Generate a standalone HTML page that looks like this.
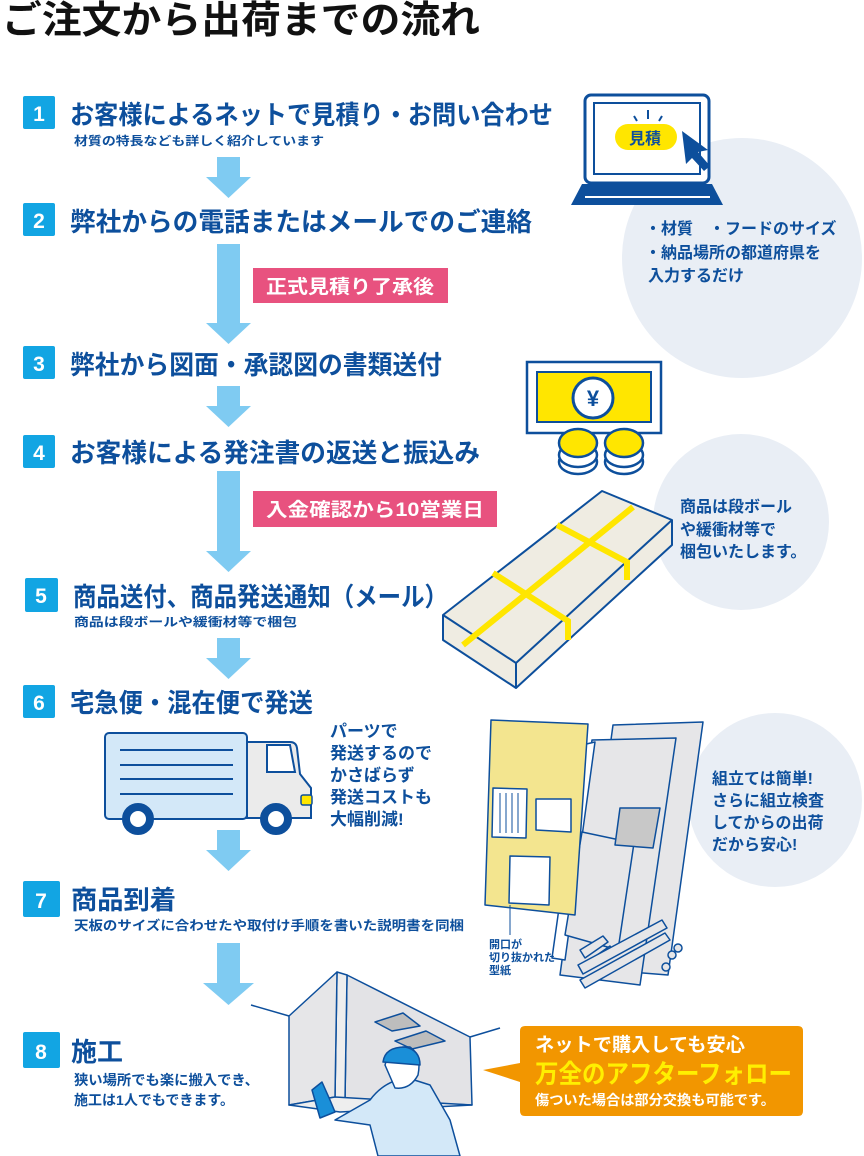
<!DOCTYPE html>
<html><head><meta charset="utf-8">
<style>
html,body{margin:0;padding:0;background:#fff;}
svg{display:block;}
text{font-family:"Liberation Sans","Noto Sans CJK JP",sans-serif;font-weight:bold;}
</style></head>
<body>
<svg width="864" height="1156" viewBox="0 0 864 1156" xmlns="http://www.w3.org/2000/svg">
<text x="2" y="33" font-size="38" fill="#111" textLength="478" lengthAdjust="spacingAndGlyphs">ご注文から出荷までの流れ</text>

<circle cx="742" cy="258" r="120" fill="#e9eef5"/>
<circle cx="741" cy="522" r="88" fill="#e9eef5"/>
<circle cx="775" cy="800" r="87" fill="#e9eef5"/>

<rect x="585" y="95" width="124" height="88" rx="6" fill="#fff" stroke="#0d4f9c" stroke-width="3"/>
<rect x="594" y="103" width="106" height="71" fill="#fff" stroke="#0d4f9c" stroke-width="2"/>
<path d="M582 184 L712 184 L723 205 L571 205 Z" fill="#0d4f9c"/>
<line x1="585" y1="197" x2="710" y2="197" stroke="#fff" stroke-width="2"/>
<rect x="615" y="124" width="62" height="26" rx="13" fill="#ffe600"/>
<text x="629" y="144" font-size="16" fill="#0d4f9c">見積</text>
<path d="M634 116 l3 5 M648 110 v9 M662 116 l-3 5" stroke="#0d4f9c" stroke-width="2"/>
<path d="M682 131 L708 150 L698 152 L710 166 L704 171 L692 158 L686 164 Z" fill="#0d4f9c"/>
<text x="645" y="234" font-size="16" fill="#0d4f9c">・材質　・フードのサイズ</text>
<text x="645" y="258" font-size="16" fill="#0d4f9c">・納品場所の都道府県を</text>
<text x="648" y="281" font-size="16" fill="#0d4f9c">入力するだけ</text>

<g fill="#12a5e3">
<rect x="23" y="96" width="32" height="33" rx="2"/>
<rect x="23" y="203" width="32" height="33" rx="2"/>
<rect x="23" y="346" width="32" height="33" rx="2"/>
<rect x="23" y="435" width="32" height="33" rx="2"/>
<rect x="25" y="578" width="33" height="34" rx="2"/>
<rect x="23" y="685" width="32" height="33" rx="2"/>
<rect x="23" y="881" width="37" height="36" rx="2"/>
<rect x="23" y="1032" width="37" height="36" rx="2"/>
</g>
<g fill="#fff" font-size="21" text-anchor="middle">
<text x="39" y="121">1</text><text x="39" y="228">2</text><text x="39" y="371">3</text><text x="39" y="460">4</text>
<text x="41" y="603">5</text><text x="39" y="710">6</text><text x="41" y="908">7</text><text x="41" y="1059">8</text>
</g>

<g fill="#0d4f9c" font-size="26">
<text x="70" y="124" textLength="483" lengthAdjust="spacingAndGlyphs">お客様によるネットで見積り・お問い合わせ</text>
<text x="70" y="231" textLength="462" lengthAdjust="spacingAndGlyphs">弊社からの電話またはメールでのご連絡</text>
<text x="70" y="374" textLength="372" lengthAdjust="spacingAndGlyphs">弊社から図面・承認図の書類送付</text>
<text x="70" y="462" textLength="410" lengthAdjust="spacingAndGlyphs">お客様による発注書の返送と振込み</text>
<text x="73" y="606" textLength="375" lengthAdjust="spacingAndGlyphs">商品送付、商品発送通知（メール）</text>
<text x="70" y="712" textLength="243" lengthAdjust="spacingAndGlyphs">宅急便・混在便で発送</text>
<text x="71" y="909" textLength="105" lengthAdjust="spacingAndGlyphs">商品到着</text>
<text x="71" y="1061" textLength="52" lengthAdjust="spacingAndGlyphs">施工</text>
</g>
<g fill="#0d4f9c" font-size="12">
<text x="74" y="145" textLength="250" lengthAdjust="spacingAndGlyphs">材質の特長なども詳しく紹介しています</text>
<text x="74" y="626" textLength="223" lengthAdjust="spacingAndGlyphs">商品は段ボールや緩衝材等で梱包</text>
<text x="74" y="930" font-size="13" textLength="390" lengthAdjust="spacingAndGlyphs">天板のサイズに合わせたや取付け手順を書いた説明書を同梱</text>
<text x="74" y="1085" font-size="14" textLength="185" lengthAdjust="spacingAndGlyphs">狭い場所でも楽に搬入でき、</text>
<text x="74" y="1105" font-size="14" textLength="160" lengthAdjust="spacingAndGlyphs">施工は1人でもできます。</text>
</g>

<g fill="#7fcbf2">
<path d="M217 157 h23 v20 h11 l-22.5 21 l-22.5 -21 h11 Z"/>
<path d="M217 244 h23 v79 h11 l-22.5 21 l-22.5 -21 h11 Z"/>
<path d="M217 386 h23 v20 h11 l-22.5 21 l-22.5 -21 h11 Z"/>
<path d="M217 471 h23 v80 h11 l-22.5 21 l-22.5 -21 h11 Z"/>
<path d="M217 638 h23 v20 h11 l-22.5 21 l-22.5 -21 h11 Z"/>
<path d="M217 830 h23 v20 h11 l-22.5 21 l-22.5 -21 h11 Z"/>
<path d="M217 943 h23 v40 h14 l-25.5 22 l-25.5 -22 h14 Z"/>
</g>

<rect x="253" y="268" width="195" height="35" fill="#e8527f"/>
<text x="266" y="293" font-size="19" fill="#fff" textLength="168" lengthAdjust="spacingAndGlyphs">正式見積り了承後</text>
<rect x="253" y="491" width="244" height="36" fill="#e8527f"/>
<text x="266" y="516" font-size="19" fill="#fff" textLength="218" lengthAdjust="spacingAndGlyphs">入金確認から10営業日</text>

<rect x="527" y="362" width="134" height="71" fill="#fff" stroke="#0d4f9c" stroke-width="2.5"/>
<rect x="537" y="372" width="114" height="50" fill="#ffe600" stroke="#0d4f9c" stroke-width="2"/>
<circle cx="593" cy="398" r="20" fill="#fff" stroke="#0d4f9c" stroke-width="3"/>
<text x="593" y="406" font-size="22" fill="#0d4f9c" text-anchor="middle">¥</text>
<g stroke="#0d4f9c" stroke-width="2.5" fill="#fff">
<ellipse cx="578" cy="462" rx="19" ry="12"/><ellipse cx="578" cy="455" rx="19" ry="12"/>
<ellipse cx="578" cy="443" rx="19" ry="14" fill="#ffe600"/>
<ellipse cx="624" cy="462" rx="19" ry="12"/><ellipse cx="624" cy="455" rx="19" ry="12"/>
<ellipse cx="624" cy="443" rx="19" ry="14" fill="#ffe600"/>
</g>
<text x="680" y="512" font-size="16" fill="#0d4f9c">商品は段ボール</text>
<text x="680" y="535" font-size="16" fill="#0d4f9c">や緩衝材等で</text>
<text x="680" y="557" font-size="16" fill="#0d4f9c">梱包いたします。</text>

<g stroke="#0d4f9c" stroke-width="2" stroke-linejoin="round">
<path d="M443 615 L602 491 L672 520 L672 545 L516 688 L443 640 Z" fill="#efece2"/>
<path d="M443 615 L516 663 L672 520" fill="none"/>
<path d="M516 663 L516 688" fill="none"/>
</g>
<g stroke="#ffe600" stroke-width="6" fill="none">
<path d="M633 507 L463 645"/>
<path d="M557 525 L627 562 L627 580"/>
<path d="M493 573 L568 621 L568 640"/>
</g>

<rect x="105" y="733" width="142" height="86" rx="4" fill="#d3e8f8" stroke="#0d4f9c" stroke-width="2"/>
<g stroke="#0d4f9c" stroke-width="2"><line x1="120" y1="750" x2="233" y2="750"/><line x1="120" y1="765" x2="233" y2="765"/><line x1="120" y1="779" x2="233" y2="779"/><line x1="120" y1="794" x2="233" y2="794"/></g>
<path d="M247 742 L290 742 Q296 742 297 748 L300 774 L311 788 L311 818 L247 818 Z" fill="#ebebeb" stroke="#0d4f9c" stroke-width="2"/>
<path d="M267 745 L290 745 L295 772 L267 772 Z" fill="#fff" stroke="#0d4f9c" stroke-width="2"/>
<rect x="301" y="795" width="11" height="10" rx="2" fill="#ffe600" stroke="#0d4f9c" stroke-width="1.5"/>
<circle cx="138" cy="819" r="12" fill="#fff" stroke="#0d4f9c" stroke-width="8"/>
<circle cx="276" cy="819" r="12" fill="#fff" stroke="#0d4f9c" stroke-width="8"/>
<g fill="#0d4f9c" font-size="17">
<text x="330" y="737">パーツで</text>
<text x="330" y="759">発送するので</text>
<text x="330" y="781">かさばらず</text>
<text x="330" y="803">発送コストも</text>
<text x="330" y="825">大幅削減!</text>
</g>

<g stroke="#0d4f9c" stroke-width="1.5" stroke-linejoin="round">
<path d="M613 725 L703 722 L668 975 L580 968 Z" fill="#e6e6e8"/>
<path d="M592 740 L676 738 L640 985 L560 975 Z" fill="#e6e6e8"/>
<path d="M582 745 L595 742 L565 960 L552 958 Z" fill="#fff"/>
<path d="M582 832 L634 843 L618 950 L565 935 Z" fill="#e6e6e8"/>
<path d="M620 808 L660 808 L653 848 L615 845 Z" fill="#c8c8c8"/>
<path d="M491 720 L588 724 L575 915 L485 905 Z" fill="#f3e58f"/>
<path d="M493 788 L527 789 L526 838 L492 837 Z" fill="#fff"/>
<g stroke-width="1"><path d="M500 793 v40 M506 793 v40 M512 793 v40 M518 793 v40"/></g>
<path d="M536 799 L571 799 L571 832 L536 830 Z" fill="#fff"/>
<path d="M510 856 L550 857 L549 905 L509 903 Z" fill="#fff"/>
<path d="M580 950 L603 936 L608 942 L585 958 Z M590 960 L610 946 L614 952 L594 966 Z" fill="#e6e6e8"/>
<path d="M580 980 L665 933 L670 940 L585 988 Z M578 965 L662 920 L667 928 L583 974 Z" fill="#e6e6e8"/>
<circle cx="672" cy="955" r="4" fill="#e6e6e8"/><circle cx="678" cy="948" r="4" fill="#e6e6e8"/><circle cx="666" cy="967" r="4" fill="#e6e6e8"/>
</g>
<line x1="510" y1="905" x2="510" y2="935" stroke="#0d4f9c"/>
<g fill="#0d4f9c" font-size="11">
<text x="489" y="948">開口が</text><text x="489" y="961">切り抜かれた</text><text x="489" y="974">型紙</text>
</g>
<g fill="#0d4f9c" font-size="16">
<text x="712" y="784">組立ては簡単!</text>
<text x="712" y="806">さらに組立検査</text>
<text x="712" y="828">してからの出荷</text>
<text x="712" y="850">だから安心!</text>
</g>

<g stroke="#0d4f9c" stroke-width="1.5" stroke-linejoin="round">
<line x1="251" y1="1005" x2="289" y2="1016"/>
<line x1="470" y1="1037" x2="500" y2="1028"/>
<path d="M347 975 L470 1037 L472 1105 L345 1100 Z" fill="#e3e3e6"/>
<path d="M337 972 L347 975 L345 1100 L335 1097 Z" fill="#eee"/>
<path d="M289 1016 L337 972 L335 1097 L289 1105 Z" fill="#e6e6e8"/>
<path d="M289 1105 L335 1097 L472 1105 L340 1112 Z" fill="#eee"/>
<path d="M375 1022 L403 1013 L420 1026 L392 1031 Z M395 1041 L426 1031 L445 1041 L412 1049 Z" fill="#bdbdbd"/>
<path d="M370 1100 Q385 1080 408 1078 L430 1085 L450 1120 L460 1156 L378 1156 L370 1125 L335 1120 Z" fill="#d3e8f8"/>
<path d="M385 1065 Q390 1045 410 1047 Q422 1055 418 1075 Q410 1090 395 1088 Z" fill="#fff"/>
<path d="M383 1062 Q385 1047 405 1047 Q420 1050 420 1065 Z" fill="#1a8fd8"/>
<path d="M312 1090 L322 1082 L330 1100 L335 1112 L320 1118 Z" fill="#1a8fd8"/>
</g>

<path d="M520 1031 Q520 1026 525 1026 L798 1026 Q803 1026 803 1031 L803 1111 Q803 1116 798 1116 L525 1116 Q520 1116 520 1111 L520 1082 L483 1070 L520 1063 Z" fill="#f29600"/>
<text x="535" y="1051" font-size="19" fill="#fff" textLength="210" lengthAdjust="spacingAndGlyphs">ネットで購入しても安心</text>
<text x="535" y="1083" font-size="26" fill="#ffef00" textLength="257" lengthAdjust="spacingAndGlyphs">万全のアフターフォロー</text>
<text x="535" y="1105" font-size="14" fill="#fff" textLength="240" lengthAdjust="spacingAndGlyphs">傷ついた場合は部分交換も可能です。</text>
</svg>
</body></html>
